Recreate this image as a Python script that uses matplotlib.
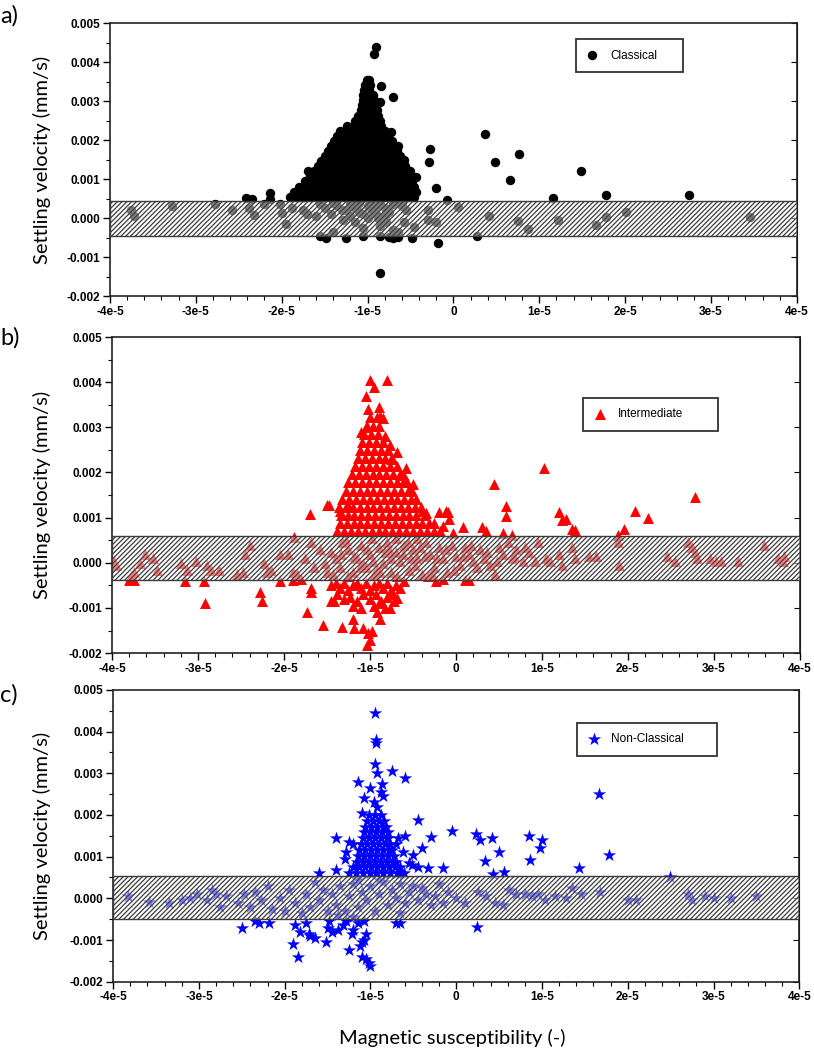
import matplotlib
matplotlib.use("Agg")
import matplotlib.pyplot as plt
import numpy as np

# x values in units of 1e-6, settling velocity in units of 1e-3 mm/s
# (converted when plotted)

# ---- a) Classical -------------------------------------------------------
# dense core, one row per velocity level: (y, [x, ...])
a_core = [
    (0.55, [-19.0, -18.2, -17.4, -16.6, -15.8, -15.0, -14.2, -13.4, -12.6, -11.8, -11.0, -10.2, -9.4, -8.6, -7.8, -7.0, -6.2, -5.4, -4.6]),
    (0.68, [-18.6, -17.8, -17.0, -16.2, -15.4, -14.6, -13.8, -13.0, -12.2, -11.4, -10.6, -9.8, -9.0, -8.2, -7.4, -6.6, -5.8, -5.0, -4.4]),
    (0.81, [-18.0, -17.2, -16.4, -15.6, -14.8, -14.0, -13.2, -12.4, -11.6, -10.8, -10.0, -9.2, -8.4, -7.6, -6.8, -6.0, -5.2, -4.6]),
    (0.94, [-17.3, -16.5, -15.7, -14.9, -14.1, -13.3, -12.5, -11.7, -10.9, -10.1, -9.3, -8.5, -7.7, -6.9, -6.1, -5.3, -4.8]),
    (1.07, [-16.7, -15.9, -15.1, -14.3, -13.5, -12.7, -11.9, -11.1, -10.3, -9.5, -8.7, -7.9, -7.1, -6.3, -5.5, -5.0]),
    (1.20, [-16.2, -15.4, -14.6, -13.8, -13.0, -12.2, -11.4, -10.6, -9.8, -9.0, -8.2, -7.4, -6.6, -5.8, -5.3]),
    (1.33, [-15.8, -15.0, -14.2, -13.4, -12.6, -11.8, -11.0, -10.2, -9.4, -8.6, -7.8, -7.0, -6.2, -5.6]),
    (1.46, [-15.4, -14.6, -13.8, -13.0, -12.2, -11.4, -10.6, -9.8, -9.0, -8.2, -7.4, -6.6, -5.9]),
    (1.59, [-15.0, -14.2, -13.4, -12.6, -11.8, -11.0, -10.2, -9.4, -8.6, -7.8, -7.0, -6.2]),
    (1.72, [-14.6, -13.8, -13.0, -12.2, -11.4, -10.6, -9.8, -9.0, -8.2, -7.4, -6.6]),
    (1.85, [-14.2, -13.4, -12.6, -11.8, -11.0, -10.2, -9.4, -8.6, -7.8, -7.0]),
    (1.98, [-13.9, -13.1, -12.3, -11.5, -10.7, -9.9, -9.1, -8.3, -7.5, -7.2]),
    (2.11, [-13.6, -12.8, -12.0, -11.2, -10.4, -9.6, -8.8, -8.0, -7.6]),
    (2.24, [-13.2, -12.4, -11.6, -10.8, -10.0, -9.2, -8.4, -8.0]),
    (2.37, [-12.4, -11.6, -10.8, -10.0, -9.2, -8.4]),
    (2.50, [-11.5, -10.7, -9.9, -9.1, -8.6]),
    (2.63, [-11.1, -10.3, -9.5, -8.8]),
    (2.76, [-10.8, -10.0, -9.2, -8.9]),
    (2.89, [-10.6, -9.8, -9.1]),
    (3.02, [-10.5, -9.8, -9.2]),
    (3.15, [-10.5, -9.9, -9.4]),
    (3.28, [-10.4, -9.8]),
    (3.41, [-10.3, -9.7]),
    (3.54, [-10.1, -9.8]),
]
a_x = [-9.0, -9.2, -8.4, -7.0, -8.5, -7.3, -6.5, -5.8, -5.0, -4.3, -2.7, -2.8, -2.0, -0.7,
       3.7, 4.8, 6.6, 7.6, 11.6, 14.9, 17.8, 27.4, -24.2, -23.5, -21.3, -21.4, -16.9, -16.4,
       -37.6, -37.2, -32.8, -27.8, -25.8, -23.8, -23.2, -22.0, -20.2, -20.0, -19.5, -18.8,
       -17.5, -17.0, -16.0, -15.0, -14.2, -13.5, -12.5, -12.0, -11.5, -11.0, -10.5, -10.0,
       -9.5, -9.0, -8.5, -8.0, -7.5, -7.0, -6.5, -6.0, -5.8, -3.0, -3.0, -2.0, 0.5, 4.2,
       7.5, 8.7, 12.2, 16.6, 17.8, 20.1, 34.5, -4.6, -14.0,
       -15.5, -14.0, -13.0, -12.0, -11.0, -10.0, -9.5, -8.5, -8.0, -7.0, -6.0, -5.5, -11.5,
       -10.5, -9.0, -8.8, -12.8, -7.8,
       -15.5, -14.8, -10.5, -8.5, -7.5, -7.0, -6.5, -4.8, -1.8, 2.8, -8.5, -12.5]
a_y = [4.38, 4.20, 3.38, 3.10, 2.98, 2.20, 1.85, 1.50, 1.20, 1.05, 1.78, 1.45, 0.77, 0.47,
       2.15, 1.45, 0.97, 1.65, 0.52, 1.20, 0.58, 0.58, 0.52, 0.50, 0.65, 0.50, 1.20, 0.62,
       0.22, 0.05, 0.30, 0.35, 0.22, 0.25, 0.08, 0.35, 0.35, 0.12, -0.15, 0.25,
       0.20, 0.10, 0.05, 0.25, 0.10, 0.30, 0.20, 0.05, -0.10, 0.15, -0.25, 0.00,
       0.20, 0.30, -0.20, 0.05, 0.15, -0.30, -0.35, 0.30, -0.10, 0.20, -0.05, -0.10, 0.28, 0.05,
       -0.08, -0.27, -0.05, -0.18, 0.02, 0.15, 0.02, -0.22, -0.35,
       0.35, 0.38, 0.20, 0.35, 0.38, 0.30, 0.38, 0.35, 0.25, 0.35, 0.38, 0.20, 0.25,
       0.10, 0.10, 0.00, -0.05, -0.10,
       -0.45, -0.50, -0.45, -0.45, -0.48, -0.50, -0.48, -0.52, -0.65, -0.47, -1.42, -0.50]
a_band = (-0.46, 0.44)

# ---- b) Intermediate ----------------------------------------------------
b_core = [
    (0.70, [-13.8, -13.0, -12.2, -11.4, -10.6, -9.8, -9.0, -8.2, -7.4, -6.6, -5.8, -5.0, -4.2, -3.4, -2.6, -1.8]),
    (0.88, [-13.5, -12.7, -11.9, -11.1, -10.3, -9.5, -8.7, -7.9, -7.1, -6.3, -5.5, -4.7, -3.9, -3.1, -2.5]),
    (1.06, [-13.4, -12.6, -11.8, -11.0, -10.2, -9.4, -8.6, -7.8, -7.0, -6.2, -5.4, -4.6, -3.6]),
    (1.24, [-13.6, -12.8, -12.0, -11.2, -10.4, -9.6, -8.8, -8.0, -7.2, -6.4, -5.6, -4.8, -4.1]),
    (1.42, [-13.2, -12.4, -11.6, -10.8, -10.0, -9.2, -8.4, -7.6, -6.8, -6.0, -5.2, -4.6]),
    (1.60, [-12.8, -12.0, -11.2, -10.4, -9.6, -8.8, -8.0, -7.2, -6.4, -5.6, -5.1]),
    (1.78, [-12.5, -11.7, -10.9, -10.1, -9.3, -8.5, -7.7, -6.9, -6.1, -5.7]),
    (1.96, [-12.1, -11.3, -10.5, -9.7, -8.9, -8.1, -7.3, -6.5, -6.2]),
    (2.14, [-11.7, -10.9, -10.1, -9.3, -8.5, -7.7, -6.9]),
    (2.32, [-11.4, -10.6, -9.8, -9.0, -8.2, -7.4]),
    (2.50, [-11.1, -10.3, -9.5, -8.7, -7.9]),
    (2.68, [-10.9, -10.1, -9.3, -8.5]),
    (2.86, [-10.7, -9.9, -9.1]),
    (3.04, [-10.4, -9.7, -9.0]),
    (3.22, [-10.0, -9.2]),
]
b_x = [-10.0, -8.0, -9.5, -10.5, -9.0, -10.2, -8.8, -8.5, -11.0, -10.5, -8.3, -7.7, -6.8, -7.5,
       -5.8, -6.5, -5.0, -14.8, -12.5, -13.5, -17.0, -15.0, -4.0, -3.5, -2.0, -1.2, -0.9, -0.8,
       -1.5, 0.8, 3.0, 3.5, 5.5, 5.8, 5.8, 4.4, 10.3, 12.0, 12.3, 12.8, 13.5, 13.8, 19.5,
       18.8, 20.8, 22.3, 27.8, -0.3, 6.5, -18.8,
       -14.5, -14.0, -13.5, -13.0, -12.5, -12.0, -11.5, -11.0, -10.5, -10.0, -9.5, -9.0, -8.5,
       -8.0, -7.5, -7.0, -13.8, -13.0, -12.3, -11.5, -10.8, -10.0, -9.3, -8.7, -8.0, -7.3,
       -6.8, -14.5, -12.0, -11.0, -9.5, -8.2, -7.7, -9.2, -12.0, -10.8, -9.8, -8.8, -13.3,
       -15.5, -17.3, -10.2, -10.0, -10.3, -11.8, -9.0, -14.2, -16.8, -16.9, -22.8, -22.5,
       -29.2, -31.5, -29.3, -38.0, -37.5, -20.5, -19.0, -18.0, -6.0, -2.3, 1.0, 1.5, -1.5,
       -6.5, -7.2,
       -39.8, -39.5, -37.5, -37.8, -36.2, -36.8, -35.2, -34.8, -32.0, -31.3, -30.2, -29.0,
       -28.5, -27.5, -25.5, -24.8, -24.0, -24.5, -22.3, -22.0, -21.5, -20.5, -19.5, -19.0,
       -18.5, -17.5, -16.5, -16.8, -15.8, -15.0, -14.5, -14.0, -13.5, -13.2, -12.5, -12.0,
       -11.5, -11.0, -10.5, -10.0, -9.5, -9.0, -8.5, -8.0, -7.5, -7.0, -6.5, -6.0, -5.5,
       -5.0, -4.5, -4.0, -3.5, -3.0, -2.5, -2.0, -1.5, -1.0, -0.5, 0.0, 0.5, 1.0, 1.5, 2.0,
       2.8, 3.3, 4.0, 4.5, 5.0, 5.5, 6.0, 6.5, 7.0, 7.8, 8.5, 9.2, 9.5, 10.5, 11.0, 12.0,
       12.3, 13.5, 13.8, 15.5, 16.3, 19.0, 18.8, 24.5, 25.5, 27.0, 27.5, 27.8, 28.0, 29.5,
       30.2, 30.8, 32.8, 35.8, 37.5, 38.0, 38.2, -9.8, -7.0, -4.5,
       -15.2, -14.3, -13.4, -12.6, -11.8, -11.2, -10.4, -9.6, -8.8, -8.2, -7.6, -6.8, -6.2,
       -5.6, -4.8, -4.2, -3.6, -2.8, -2.2, -1.2, -0.2, 0.8, 1.8, 2.4, 3.6, 4.8, 6.8, 8.0,
       -12.8, -10.8, -9.2, -7.8, -5.2, -3.2]
b_y = [4.05, 4.05, 3.90, 3.70, 3.45, 3.40, 3.25, 3.20, 2.90, 3.00, 2.80, 2.60, 2.45, 2.30,
       2.10, 1.95, 1.75, 1.28, 1.25, 1.15, 1.08, 1.27, 1.15, 1.10, 1.12, 1.15, 1.12, 0.98,
       0.82, 0.80, 0.80, 0.70, 0.67, 1.25, 1.03, 1.75, 2.10, 1.12, 0.95, 0.98, 0.75, 0.72, 0.75,
       0.62, 1.15, 1.00, 1.45, 0.65, 0.62, 0.58,
       -0.50, -0.45, -0.55, -0.45, -0.60, -0.50, -0.45, -0.55, -0.45, -0.60, -0.50, -0.45, -0.55,
       -0.45, -0.60, -0.50, -0.70, -0.80, -0.75, -0.85, -0.70, -0.80, -0.70, -0.85, -0.75, -0.70,
       -0.78, -0.85, -0.95, -1.00, -0.95, -1.00, -1.00, -1.10, -1.25, -1.45, -1.50, -1.25, -1.42,
       -1.38, -1.08, -1.55, -1.70, -1.82, -1.45, -0.90, -0.85, -0.55, -0.65, -0.65, -0.85,
       -0.90, -0.40, -0.40, -0.38, -0.38, -0.40, -0.38, -0.35, -0.40, -0.40, -0.38, -0.38, -0.35,
       -0.55, -0.85,
       0.05, -0.05, -0.20, -0.30, 0.20, 0.00, 0.10, -0.15, 0.00, -0.15, 0.05, -0.05,
       -0.15, -0.15, -0.25, -0.20, 0.40, 0.20, 0.00, -0.20, -0.15, 0.20, 0.20, -0.20,
       -0.25, 0.10, -0.10, 0.45, 0.30, -0.20, 0.25, 0.10, -0.10, 0.45, 0.30, -0.20,
       0.10, 0.40, -0.10, 0.20, -0.25, 0.35, 0.00, 0.45, -0.20, 0.25, 0.05, 0.40, -0.15,
       0.30, 0.10, -0.25, 0.45, 0.20, -0.10, 0.35, 0.10, -0.20, 0.40, 0.15, -0.05, 0.35, 0.20, 0.05,
       0.30, 0.10, -0.05, -0.25, 0.35, 0.20, 0.45, 0.10, 0.30, 0.05, 0.25, 0.05, 0.45, 0.10, 0.05, 0.20,
       -0.05, 0.35, 0.10, 0.15, 0.15, -0.05, 0.45, 0.15, 0.05, 0.45, 0.35, 0.25, 0.10, 0.10,
       0.05, 0.05, 0.05, 0.40, 0.10, 0.05, 0.15, 0.55, 0.55, 0.55,
       0.00, -0.25, 0.20, -0.30, 0.15, -0.10, 0.30, 0.05, -0.20, 0.25, 0.10, -0.30, 0.20,
       0.45, -0.05, 0.35, 0.15, -0.25, 0.10, 0.30, -0.15, 0.15, 0.40, -0.10, 0.25, 0.05, 0.15, 0.35,
       0.50, 0.00, -0.15, 0.30, 0.10, -0.30]
b_band = (-0.38, 0.59)

# ---- c) Non-Classical ---------------------------------------------------
c_core = [
    (0.60, [-12.5, -11.7, -10.9, -10.1, -9.3, -8.5, -7.7, -6.9, -6.1]),
    (0.74, [-12.0, -11.3, -10.6, -9.9, -9.2, -8.5, -7.8, -7.1, -6.5]),
    (0.88, [-11.6, -10.9, -10.2, -9.5, -8.8, -8.1, -7.4, -7.0]),
    (1.02, [-11.4, -10.7, -10.0, -9.3, -8.6, -7.9, -7.3]),
    (1.16, [-11.3, -10.6, -9.9, -9.2, -8.5, -7.8, -7.5]),
    (1.30, [-11.1, -10.4, -9.7, -9.0, -8.3, -7.7]),
    (1.44, [-10.9, -10.2, -9.5, -8.8, -8.1, -7.9]),
    (1.58, [-10.8, -10.1, -9.4, -8.7, -8.0]),
    (1.72, [-10.6, -9.9, -9.2, -8.5, -8.2]),
    (1.86, [-10.4, -9.7, -9.0, -8.4]),
    (2.00, [-10.2, -9.5, -8.8]),
]
c_x = [-9.5, -9.3, -9.4, -9.5, -9.2, -7.5, -11.5, -6.0, -8.6, -10.0, -8.8, -8.5, -10.8, -9.6,
       -11.0, -9.2, -4.5, -14.0, -12.5, -12.0, -12.8, -13.0, -14.0, -16.0, -6.0, -5.0, -4.0,
       -3.0, -3.3, -5.5, -1.5, -0.5, 2.3, 2.8, 4.2, 3.3, 5.0, 4.3, 5.6, 8.5, 8.6, 10.0, 9.8,
       14.3, 16.7, 17.8, 24.9, -6.5, -4.5, -7.0, -5.2, -6.2, -6.8,
       -25.0, -23.5, -23.0, -21.8, -19.0, -18.5, -18.8, -18.2, -17.5, -17.2, -17.0, -16.5,
       -15.2, -15.0, -14.5, -13.8, -13.2, -12.5, -12.2, -12.0, -11.5, -11.0, -11.2, -10.8,
       -11.0, -10.5, -10.2, -10.0, -10.5, -10.8, -14.8, -7.0, -6.5, 2.4, -12.8,
       -38.3, -35.8, -33.5, -32.0, -31.0, -30.2, -29.0, -28.5, -28.0, -27.5, -26.8, -25.5,
       -24.8, -24.0, -23.5, -22.8, -22.0, -21.5, -20.5, -20.0, -19.5, -18.8, -18.0, -17.5,
       -17.0, -16.5, -16.0, -15.5, -15.0, -14.5, -14.0, -13.5, -13.0, -12.5, -12.0, -11.5,
       -11.0, -10.5, -10.0, -9.5, -9.0, -8.5, -8.0, -7.5, -7.0, -6.5, -6.0, -5.5, -5.0,
       -4.5, -4.0, -3.5, -3.0, -2.5, -2.0, -1.5, -1.0, 0.0, 1.0, 2.5, 3.5, 4.5, 5.5, 6.2,
       7.0, 8.0, 8.8, 9.5, 10.3, 11.5, 12.8, 13.5, 14.5, 16.8, 20.0, 21.0, 27.0, 27.5, 29.0,
       30.0, 32.0, 35.0, -9.0, -11.5, -6.5, -13.8, -12.0]
c_y = [4.45, 3.80, 3.72, 3.22, 3.00, 3.05, 2.80, 2.88, 2.75, 2.65, 2.55, 2.45, 2.40, 2.30,
       2.05, 2.20, 1.87, 1.45, 1.35, 1.30, 1.10, 0.95, 0.68, 0.60, 1.50, 1.05, 1.20,
       1.48, 0.72, 0.85, 0.72, 1.62, 1.55, 1.40, 1.45, 0.90, 1.10, 0.58, 0.63, 1.50, 0.92, 1.40, 1.20,
       0.72, 2.50, 1.05, 0.50, 0.60, 0.75, 1.30, 0.80, 1.10, 1.45,
       -0.70, -0.55, -0.60, -0.60, -1.10, -1.40, -0.65, -0.80, -0.60, -0.85, -0.90, -0.95,
       -1.05, -0.70, -0.80, -0.75, -0.65, -1.25, -0.85, -0.75, -0.60, -1.05, -1.15, -1.00,
       -1.40, -1.45, -1.55, -1.62, -0.85, -0.55, -0.55, -0.60, -0.60, -0.68, -0.55,
       0.05, -0.08, -0.10, -0.05, 0.00, 0.10, -0.05, 0.20, 0.10, -0.20, 0.05, -0.10,
       0.10, -0.20, 0.15, -0.05, 0.30, -0.25, 0.00, -0.30, 0.20, -0.10, -0.35, 0.10,
       -0.20, 0.40, -0.05, 0.20, -0.30, 0.10, -0.15, 0.30, -0.30, 0.05, 0.35, -0.20,
       0.15, -0.05, 0.30, -0.30, 0.10, 0.40, -0.15, 0.20, 0.00, 0.35, -0.10, 0.15, 0.30,
       -0.05, 0.25, 0.10, -0.15, 0.05, 0.35, -0.10, 0.15, 0.00, -0.10, 0.15, 0.05, -0.10, -0.15, 0.20,
       0.10, 0.10, 0.05, 0.10, -0.05, 0.05, 0.00, 0.25, 0.10, 0.15, -0.05, -0.05, 0.10, -0.05, 0.05,
       0.00, 0.00, 0.05, 0.45, 0.45, -0.35, -0.40, -0.45]
c_band = (-0.50, 0.54)

x_ticks = [-40, -30, -20, -10, 0, 10, 20, 30, 40]
x_tick_labels = ['-4e-5', '-3e-5', '-2e-5', '-1e-5', '0', '1e-5', '2e-5', '3e-5', '4e-5']
y_ticks = [-2, -1, 0, 1, 2, 3, 4, 5]
y_tick_labels = ['-0.002', '-0.001', '0.000', '0.001', '0.002', '0.003', '0.004', '0.005']

NARROW = ['Liberation Sans Narrow', 'Liberation Sans', 'DejaVu Sans']
LABEL_FONT = ['Lato', 'DejaVu Sans']


def flatten(core, xs, ys):
    px, py = list(xs), list(ys)
    for yv, row in core:
        px += row
        py += [yv] * len(row)
    return np.array(px) * 1e-6, np.array(py) * 1e-3


fig = plt.figure(figsize=(8.14, 10.5), dpi=100)
plt.rcParams['hatch.linewidth'] = 0.9

panels = [
    ([0.135, 0.718, 0.844, 0.260], a_core, a_x, a_y, a_band, 'o', 'black', 46, 'Classical',
     (0.678, 0.817, 0.156, 0.128), 'a)', 0.985),
    ([0.1376, 0.378, 0.845, 0.301], b_core, b_x, b_y, b_band, '^', 'red', 62, 'Intermediate',
     (0.685, 0.703, 0.196, 0.104), 'b)', 0.678),
    ([0.139, 0.065, 0.843, 0.278], c_core, c_x, c_y, c_band, '*', 'blue', 100, 'Non-Classical',
     (0.676, 0.770, 0.204, 0.120), 'c)', 0.338),
]

for rect, core, xs, ys, band, mk, col, size, name, lbox, tag, tag_y in panels:
    ax = fig.add_axes(rect)
    px, py = flatten(core, xs, ys)
    ax.scatter(px, py, marker=mk, s=size, color=col, linewidths=0, zorder=2, label=name)

    # shaded band drawn over the points
    lo, hi = band[0] * 1e-3, band[1] * 1e-3
    ax.axhspan(lo, hi, facecolor='white', alpha=0.5, lw=0, zorder=3)
    ax.axhspan(lo, hi, facecolor='none', edgecolor='#3c3c3c', hatch='///////', lw=1.0, zorder=4)

    ax.set_xlim(-4e-5, 4e-5)
    ax.set_ylim(-0.002, 0.005)
    ax.set_xticks(np.array(x_ticks) * 1e-6)
    ax.set_xticklabels(x_tick_labels)
    ax.set_yticks(np.array(y_ticks) * 1e-3)
    ax.set_yticklabels(y_tick_labels)
    ax.set_xticks(np.arange(-40, 40.1, 2) * 1e-6, minor=True)
    ax.set_yticks(np.arange(-2, 5.1, 0.5) * 1e-3, minor=True)
    ax.tick_params(which='major', direction='out', length=5, width=1.0, pad=2)
    ax.tick_params(which='minor', direction='out', length=3, width=0.8)
    for lab in ax.get_xticklabels() + ax.get_yticklabels():
        lab.set_family(NARROW)
        lab.set_fontweight('bold')
        lab.set_fontsize(8.5)
    for sp in ax.spines.values():
        sp.set_linewidth(1.2)
        sp.set_color('#222222')

    # right-hand inner ticks
    sec = ax.secondary_yaxis('right')
    sec.set_yticks(np.array(y_ticks) * 1e-3)
    sec.tick_params(direction='in', length=4, labelright=False)

    leg = ax.legend(loc='center', bbox_to_anchor=lbox, mode='expand', frameon=True,
                    fancybox=False, borderpad=0.9, handlelength=1.0, handletextpad=1.0,
                    borderaxespad=0, prop={'family': NARROW, 'size': 8.5}, scatterpoints=1)
    leg.get_frame().set_edgecolor('black')
    leg.get_frame().set_linewidth(1.3)
    leg.set_zorder(6)

    fig.text(0.052, rect[1] + rect[3] / 2, 'Settling velocity (mm/s)', rotation=90,
             ha='center', va='center', fontsize=14.5, family=LABEL_FONT)
    fig.text(0.0, tag_y, tag, ha='left', va='center', fontsize=17, family=LABEL_FONT)

fig.text(0.556, 0.0115, 'Magnetic susceptibility (-)', ha='center', va='center',
         fontsize=14.5, family=LABEL_FONT)

fig.savefig('out.png', dpi=100)
